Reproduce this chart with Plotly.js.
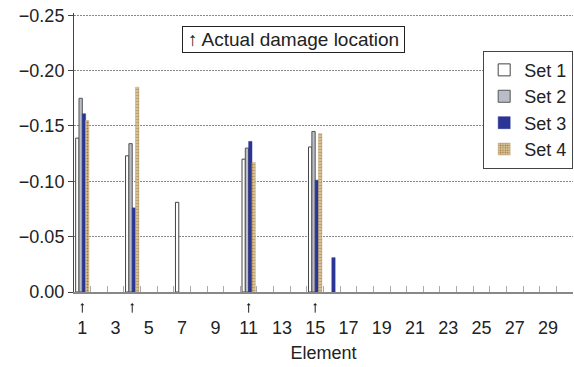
<!DOCTYPE html>
<html><head><meta charset="utf-8">
<script src="https://cdn.plot.ly/plotly-3.0.1.min.js"></script>
<style>html,body{margin:0;padding:0;background:#fff}#chart{width:574px;height:367px}</style>
</head><body><div id="chart"></div>
<script>
const elements = Array.from({length:30}, (_, i) => i + 1);
const set1 = {1:-0.139, 4:-0.123, 7:-0.081, 11:-0.120, 15:-0.131};
const set2 = {1:-0.175, 4:-0.134, 11:-0.130, 15:-0.145};
const set3 = {1:-0.161, 4:-0.076, 11:-0.136, 15:-0.101, 16:-0.031};
const set4 = {1:-0.155, 4:-0.185, 11:-0.117, 15:-0.143};
const damageLocations = [1, 4, 11, 15];
const xTickVals = [1,3,5,7,9,11,13,15,17,19,21,23,25,27,29];
const yTickVals = [0, -0.05, -0.10, -0.15, -0.20, -0.25];

function series(obj){ return elements.map(e => obj[e] !== undefined ? obj[e] : null); }

const FAM = '"Liberation Sans", Arial, sans-serif';
const font = {family:FAM, size:18, color:'#222'};

const traces = [
  {type:'bar', name:'Set 1', x:elements, y:series(set1),
   marker:{color:'#ffffff', line:{color:'#444', width:1}}},
  {type:'bar', name:'Set 2', x:elements, y:series(set2),
   marker:{color:'#b9bdc6', line:{color:'#555', width:1}}},
  {type:'bar', name:'Set 3', x:elements, y:series(set3),
   marker:{color:'#2b3595', line:{color:'#2b3595', width:0.5}}},
  {type:'bar', name:'Set 4', x:elements, y:series(set4),
   marker:{color:'#d8c49a', line:{color:'#c9ad78', width:0.5},
   pattern:{shape:'.', fgcolor:'#9c7a45', bgcolor:'#dcc8a0', size:3, solidity:0.4}}},
  {type:'scatter', x:[0.5], y:[0], xaxis:'x2', mode:'markers', marker:{opacity:0}, showlegend:false, hoverinfo:'skip'}
];

const annotations = damageLocations.map(e => ({
  x:e, xref:'x', y:-0.04, yref:'paper', text:'', showarrow:true,
  ax:0, ay:11, axref:'pixel', ayref:'pixel', arrowhead:1, arrowsize:0.7, arrowwidth:1, arrowcolor:'#222',
  standoff:0, startstandoff:0
}));
annotations.push({
  x:0.217, xref:'paper', y:0.905, yref:'paper', text:'↑ Actual damage location',
  showarrow:false, font:{family:FAM, size:19, color:'#222'},
  bordercolor:'#222', borderwidth:1, borderpad:2, bgcolor:'#fff', width:217,
  xanchor:'left', yanchor:'middle'
});

const layout = {
  width:574, height:367,
  margin:{l:74, r:1, t:13, b:75},
  paper_bgcolor:'#fff', plot_bgcolor:'#fff',
  font:font,
  barmode:'group', bargap:0.2, bargroupgap:0,
  showlegend:true,
  legend:{x:0.82, y:0.865, xanchor:'left', yanchor:'top',
    bordercolor:'#444', borderwidth:1, bgcolor:'#fff',
    font:{family:FAM, size:18, color:'#222'}, tracegroupgap:0, itemwidth:30},
  xaxis:{range:[0.5,30.5], tickmode:'array', tickvals:xTickVals, ticktext:xTickVals.map(String),
    ticks:'outside', ticklen:19, tickcolor:'rgba(0,0,0,0)', showgrid:false, zeroline:false,
    showline:true, linecolor:'#888', linewidth:1.5,
    title:{text:'Element', font:{family:FAM, size:18, color:'#222'}, standoff:9},
    tickfont:font},
  xaxis2:{overlaying:'x', range:[0.5,30.5], tickmode:'linear', tick0:0.5, dtick:1,
    ticks:'inside', ticklen:6, tickcolor:'#aaa', showticklabels:false, showgrid:false,
    zeroline:false, showline:false, side:'bottom', anchor:'y'},
  yaxis:{range:[0,-0.252], tickmode:'array', tickvals:yTickVals, tickformat:'.2f',
    ticks:'outside', ticklen:5, tickcolor:'#444',
    showgrid:true, gridcolor:'#888', griddash:'2px,1px', gridwidth:1, zeroline:false,
    showline:true, linecolor:'#444', linewidth:1, tickfont:font},
  annotations:annotations
};

Plotly.newPlot('chart', traces, layout, {displayModeBar:false, staticPlot:true});
</script></body></html>
